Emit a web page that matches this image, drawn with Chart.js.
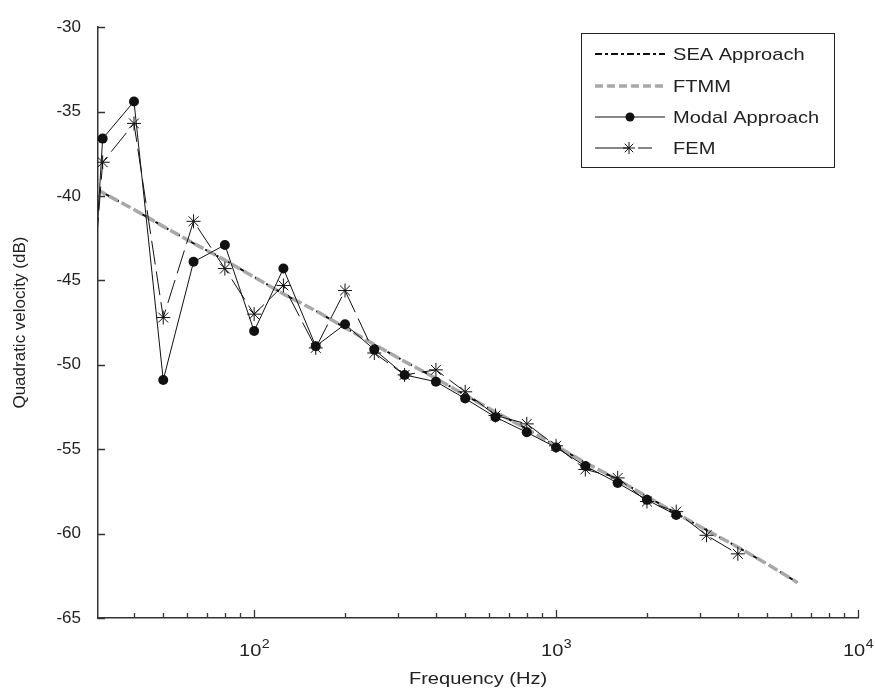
<!DOCTYPE html>
<html>
<head>
<meta charset="utf-8">
<script src="https://cdn.jsdelivr.net/npm/chart.js@4.4.0/dist/chart.umd.min.js"></script>
<style>
  html, body { margin: 0; padding: 0; background: #fff; }
</style>
</head>
<body>
<canvas id="myChart" width="875" height="690"></canvas>
<script>
// 1/3 octave band centre frequencies (Hz), first band sits left of the axis
const freqs = [25, 31.5, 40, 50, 63, 80, 100, 125, 160, 200, 250, 315, 400, 500,
               630, 800, 1000, 1250, 1600, 2000, 2500, 3150, 4000, 5000, 6300];

const seaValues  = [-38.8, -39.8, -40.8, -41.8, -42.8, -43.8, -44.8, -45.8, -46.8, -47.8, -48.8, -49.8,
                    -50.8, -51.8, -52.8, -53.8, -54.8, -55.8, -56.8, -57.8, -58.8, -59.8, -60.8, -61.8, -62.9];
const ftmmValues = [-38.8, -39.8, -40.8, -41.8, -42.8, -43.8, -44.8, -45.8, -46.8, -47.8, -48.8, -49.8,
                    -50.8, -51.8, -52.8, -53.8, -54.8, -55.8, -56.8, -57.8, -58.8, -59.8, -60.8, -61.8, -62.9];
const modalValues = [-66, -36.6, -34.4, -50.9, -43.9, -42.9, -48.0, -44.3, -48.9, -47.6, -49.1, -50.6,
                     -51.0, -52.0, -53.1, -54.0, -54.9, -56.0, -57.0, -58.0, -58.9, null, null, null, null];
const femValues   = [-61, -38.0, -35.7, -47.2, -41.5, -44.3, -47.0, -45.3, -49.0, -45.6, -49.3, -50.6,
                     -50.3, -51.6, -53.0, -53.5, -54.8, -56.2, -56.7, -58.1, -58.7, -60.1, -61.2, null, null];

const seriesNames = ['SEA Approach', 'FTMM', 'Modal Approach', 'FEM'];
const xTitle = 'Frequency (Hz)';
const yTitle = 'Quadratic velocity (dB)';
const xMajorTicks = [100, 1000, 10000];
const xTickExponents = ['2', '3', '4'];
const xMinorTicks = [40, 50, 60, 70, 80, 90, 200, 300, 400, 500, 600, 700, 800, 900,
                     2000, 3000, 4000, 5000, 6000, 7000, 8000, 9000];

const FONT = '"Liberation Sans", Arial, sans-serif';
const TEXT = '#222';
const SX = 1.18; // the reference text is a little wider than plain Arial
Chart.defaults.font.family = FONT;
Chart.defaults.color = TEXT;

function pairs(vals) {
    return freqs.map((f, i) => ({ x: f, y: vals[i] }));
}

function wideText(ctx, text, x, y, size, align) {
    ctx.save();
    ctx.font = size + 'px ' + FONT;
    ctx.translate(x, y);
    ctx.scale(SX, 1);
    ctx.textAlign = align || 'left';
    ctx.fillText(text, 0, 0);
    ctx.restore();
}

function drawStar(ctx, cx, cy, r) {
    ctx.beginPath();
    for (let k = 0; k < 4; k++) {
        const a = k * Math.PI / 4;
        ctx.moveTo(cx - r * Math.cos(a), cy - r * Math.sin(a));
        ctx.lineTo(cx + r * Math.cos(a), cy + r * Math.sin(a));
    }
    ctx.stroke();
}

const decor = {
    id: 'decor',
    afterDraw(chart) {
        const ctx = chart.ctx;
        const xs = chart.scales.x, ys = chart.scales.y;
        const area = chart.chartArea;
        ctx.save();

        // inward tick marks
        ctx.strokeStyle = '#333';
        ctx.lineWidth = 1.3;
        ctx.beginPath();
        ys.ticks.forEach(t => {
            const py = Math.round(ys.getPixelForValue(t.value)) + 0.5;
            ctx.moveTo(area.left, py);
            ctx.lineTo(area.left + 7, py);
        });
        xMajorTicks.forEach(v => {
            const px = Math.round(xs.getPixelForValue(v)) + 0.5;
            ctx.moveTo(px, area.bottom);
            ctx.lineTo(px, area.bottom - 8);
        });
        xMinorTicks.forEach(v => {
            const px = Math.round(xs.getPixelForValue(v)) + 0.5;
            ctx.moveTo(px, area.bottom);
            ctx.lineTo(px, area.bottom - 5);
        });
        ctx.stroke();

        // x tick labels 10^n and x title
        ctx.fillStyle = TEXT;
        ctx.textBaseline = 'alphabetic';
        xMajorTicks.forEach((v, i) => {
            const px = xs.getPixelForValue(v);
            ctx.font = '17px ' + FONT;
            const w1 = ctx.measureText('10').width * SX;
            ctx.font = '12px ' + FONT;
            const w2 = ctx.measureText(xTickExponents[i]).width * SX;
            const left = px - (w1 + w2) / 2;
            wideText(ctx, '10', left, 656, 17);
            wideText(ctx, xTickExponents[i], left + w1 + 0.5, 648, 12);
        });
        wideText(ctx, xTitle, (area.left + area.right) / 2, 684, 17, 'center');

        // legend
        const bx = 581, by = 33, bw = 253, bh = 134;
        ctx.fillStyle = '#fff';
        ctx.fillRect(bx, by, bw, bh);
        ctx.strokeStyle = '#222';
        ctx.lineWidth = 1;
        ctx.strokeRect(bx + 0.5, by + 0.5, bw, bh);
        const rows = [54, 86, 117, 148];
        const x0 = 595, x1 = 665;
        chart.data.datasets.forEach((ds, i) => {
            const yy = rows[i];
            ctx.strokeStyle = ds.borderColor;
            ctx.lineWidth = ds.borderWidth;
            ctx.setLineDash(i === 0 ? [7, 3, 3, 3] : i === 1 ? [8, 4] : []);
            ctx.beginPath();
            if (i === 3) {
                ctx.moveTo(x0, yy); ctx.lineTo(628, yy);
                ctx.moveTo(638, yy); ctx.lineTo(652, yy);
            } else {
                ctx.moveTo(x0, yy); ctx.lineTo(x1, yy);
            }
            ctx.stroke();
            ctx.setLineDash([]);
            if (i === 2) {
                ctx.fillStyle = '#111';
                ctx.beginPath();
                ctx.arc(630, yy, 4.5, 0, Math.PI * 2);
                ctx.fill();
            }
            if (i === 3) {
                ctx.lineWidth = 1;
                drawStar(ctx, 629, yy, 6);
            }
            ctx.fillStyle = TEXT;
            ctx.textBaseline = 'middle';
            wideText(ctx, seriesNames[i], 673, yy + 1, 17);
        });
        ctx.restore();
    }
};

new Chart(document.getElementById('myChart'), {
    type: 'line',
    data: {
        datasets: [
            {
                label: seriesNames[0], data: pairs(seaValues),
                borderColor: '#111', borderWidth: 2, borderDash: [9, 4, 2, 4],
                pointRadius: 0, order: 3
            },
            {
                label: seriesNames[1], data: pairs(ftmmValues),
                borderColor: '#a8a8a8', borderWidth: 3.5, borderDash: [10, 4],
                pointRadius: 0, order: 2
            },
            {
                label: seriesNames[2], data: pairs(modalValues),
                borderColor: '#111', borderWidth: 1,
                pointStyle: 'circle', pointRadius: 5, pointBackgroundColor: '#111',
                pointBorderColor: '#111', pointBorderWidth: 0, order: 0
            },
            {
                label: seriesNames[3], data: pairs(femValues),
                borderColor: '#111', borderWidth: 1, borderDash: [24, 7],
                pointStyle: 'star', pointRadius: 7, pointBorderColor: '#111',
                pointBorderWidth: 1, order: 1
            }
        ]
    },
    options: {
        responsive: false,
        animation: false,
        layout: { padding: { left: 0, right: 17, top: 21, bottom: 0 } },
        plugins: { legend: { display: false }, tooltip: { enabled: false } },
        elements: { line: { tension: 0 } },
        scales: {
            x: {
                type: 'logarithmic',
                min: 30.4,
                max: 10000,
                grid: { display: false, drawTicks: false },
                border: { display: true, color: '#333', width: 1.5 },
                ticks: { display: false },
                title: { display: false, text: xTitle },
                afterFit(scale) { scale.height = 72; }
            },
            y: {
                min: -65,
                max: -30,
                grid: { display: false, drawTicks: false },
                border: { display: true, color: '#333', width: 1.5 },
                ticks: { stepSize: 5, padding: 17, font: { size: 17 }, color: TEXT },
                title: {
                    display: true, text: yTitle,
                    font: { size: 17 }, color: TEXT, padding: { top: 10, bottom: 0 }
                },
                afterFit(scale) { scale.width = 98; }
            }
        }
    },
    plugins: [decor]
});
</script>
</body>
</html>
